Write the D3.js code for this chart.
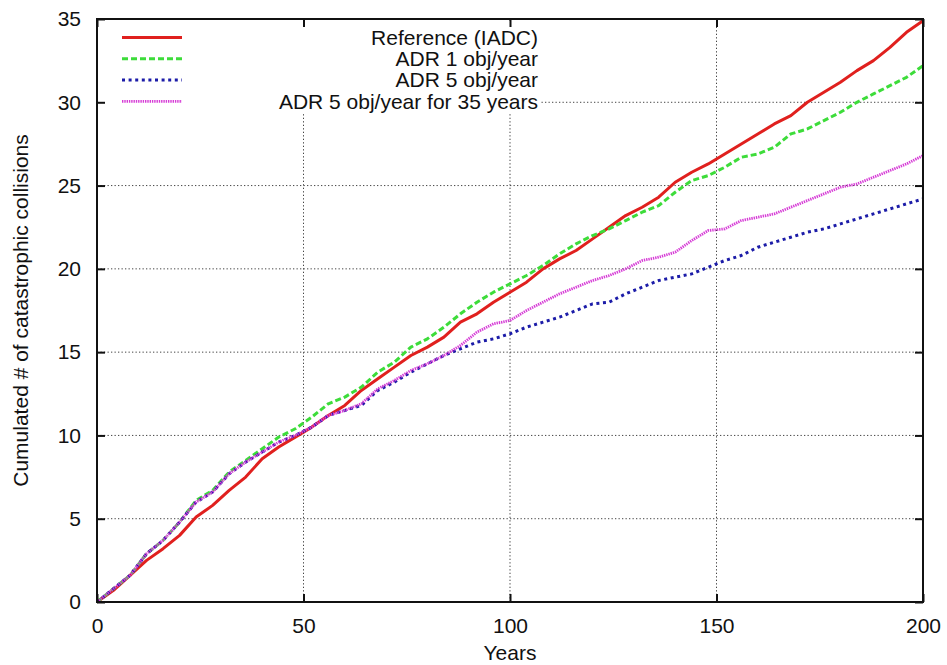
<!DOCTYPE html>
<html>
<head>
<meta charset="utf-8">
<script src="https://cdn.jsdelivr.net/npm/d3@7/dist/d3.min.js"></script>
<style>
  html, body { margin: 0; padding: 0; background: #fff; }
  svg { display: block; }
  text { font-family: "Liberation Sans", Arial, Helvetica, sans-serif; fill: #111; }
</style>
</head>
<body>
<svg id="chart" width="947" height="665"></svg>
<script>
// Simulation years (every 4 years)
const years = d3.range(0, 201, 4);

// Cumulated catastrophic collisions per scenario
const reference = [0, 0.7, 1.6, 2.5, 3.2, 4.0, 5.1, 5.8, 6.7, 7.5, 8.6, 9.3, 9.9, 10.5, 11.2, 11.8, 12.7, 13.4, 14.1, 14.8, 15.3, 15.9, 16.8, 17.3, 18.0, 18.6, 19.2, 20.0, 20.6, 21.1, 21.8, 22.5, 23.2, 23.7, 24.3, 25.2, 25.8, 26.3, 26.9, 27.5, 28.1, 28.7, 29.2, 30.0, 30.6, 31.2, 31.9, 32.5, 33.3, 34.2, 34.9];
const adr1 = [0, 0.8, 1.6, 2.9, 3.7, 4.8, 6.1, 6.7, 7.8, 8.5, 9.2, 9.9, 10.4, 11.1, 11.9, 12.3, 12.9, 13.8, 14.4, 15.3, 15.8, 16.5, 17.3, 18.0, 18.6, 19.1, 19.6, 20.2, 20.9, 21.5, 22.0, 22.4, 22.9, 23.4, 23.8, 24.6, 25.3, 25.6, 26.1, 26.7, 26.9, 27.3, 28.1, 28.4, 28.9, 29.4, 30.0, 30.5, 31.0, 31.5, 32.2];
const adr5 = [0, 0.8, 1.6, 2.9, 3.7, 4.8, 6.0, 6.6, 7.7, 8.4, 9.0, 9.6, 10.0, 10.5, 11.2, 11.5, 11.8, 12.7, 13.2, 13.8, 14.3, 14.8, 15.2, 15.6, 15.8, 16.1, 16.5, 16.8, 17.1, 17.5, 17.9, 18.0, 18.5, 18.9, 19.3, 19.5, 19.7, 20.1, 20.5, 20.8, 21.3, 21.6, 21.9, 22.2, 22.4, 22.7, 23.0, 23.3, 23.6, 23.9, 24.2];
const adr5for35 = [0, 0.8, 1.6, 2.9, 3.7, 4.8, 6.0, 6.6, 7.7, 8.4, 9.0, 9.6, 10.0, 10.5, 11.2, 11.5, 11.9, 12.8, 13.3, 13.9, 14.3, 14.8, 15.4, 16.2, 16.7, 16.9, 17.5, 18.0, 18.5, 18.9, 19.3, 19.6, 20.0, 20.5, 20.7, 21.0, 21.7, 22.3, 22.4, 22.9, 23.1, 23.3, 23.7, 24.1, 24.5, 24.9, 25.1, 25.5, 25.9, 26.3, 26.8];

const seriesNames = ["Reference (IADC)", "ADR 1 obj/year", "ADR 5 obj/year", "ADR 5 obj/year for 35 years"];
const seriesValues = [reference, adr1, adr5, adr5for35];
const seriesColors = ["#e0201e", "#3ddc3a", "#1c1ca8", "#d63cd6"];
const seriesDash = [null, "6,3", "3,3.6", "1.4,0.9"];
const seriesWidth = [3, 3, 3, 2.8];

const xTicks = [0, 50, 100, 150, 200];
const yTicks = [0, 5, 10, 15, 20, 25, 30, 35];

const margin = { left: 97, right: 24, top: 19, bottom: 63 };
const W = 947, H = 665;
const svg = d3.select("#chart");

const x = d3.scaleLinear().domain([0, 200]).range([margin.left, W - margin.right]);
const y = d3.scaleLinear().domain([0, 35]).range([H - margin.bottom, margin.top]);

const x0 = x.range()[0], x1 = x.range()[1];
const y0 = y.range()[0], y1 = y.range()[1];

// Dotted grid
const grid = svg.append("g");
grid.selectAll("line.gy").data(yTicks.filter(d => d > 0 && d < 35)).join("line")
  .attr("x1", x0).attr("x2", x1).attr("y1", d => y(d)).attr("y2", d => y(d));
grid.selectAll("line.gx").data(xTicks.filter(d => d > 0 && d < 200)).join("line")
  .attr("x1", d => x(d)).attr("x2", d => x(d)).attr("y1", y0).attr("y2", y1);
grid.selectAll("line")
  .attr("stroke", "#444").attr("stroke-width", 1).attr("stroke-dasharray", "1.3,2.2");

// Key box (opaque, hides grid beneath)
const key = svg.append("g");
key.append("rect")
  .attr("x", x0 + 2).attr("y", y1 + 2).attr("width", 441).attr("height", 92)
  .attr("fill", "#fff");

// Curves
const line = d3.line().x((d, i) => x(years[i])).y(d => y(d));
svg.append("g").selectAll("path").data(seriesValues).join("path")
  .attr("d", d => line(d))
  .attr("fill", "none")
  .attr("stroke", (d, i) => seriesColors[i])
  .attr("stroke-width", (d, i) => seriesWidth[i])
  .attr("stroke-dasharray", (d, i) => seriesDash[i])
  .attr("stroke-linejoin", "round");

// Key entries
seriesNames.forEach((name, i) => {
  const ky = 37.5 + i * 21.3;
  key.append("text").attr("x", 538).attr("y", ky).attr("dy", "0.35em")
    .attr("text-anchor", "end").style("font-size", "21px").text(name);
  key.append("line").attr("x1", 122).attr("x2", 182).attr("y1", ky).attr("y2", ky)
    .attr("stroke", seriesColors[i]).attr("stroke-width", seriesWidth[i])
    .attr("stroke-dasharray", seriesDash[i]);
});

// Axes with inward ticks, mirrored on top and right
const tickLen = 8;
const axisG = svg.append("g");
axisG.append("g").attr("transform", `translate(0,${y0})`)
  .call(d3.axisBottom(x).tickValues(xTicks).tickSize(-tickLen).tickPadding(16))
  .call(g => g.select(".domain").remove());
axisG.append("g").attr("transform", `translate(0,${y1})`)
  .call(d3.axisTop(x).tickValues(xTicks).tickSize(-tickLen).tickFormat(""))
  .call(g => g.select(".domain").remove());
axisG.append("g").attr("transform", `translate(${x0},0)`)
  .call(d3.axisLeft(y).tickValues(yTicks).tickSize(-tickLen).tickPadding(16))
  .call(g => g.select(".domain").remove());
axisG.append("g").attr("transform", `translate(${x1},0)`)
  .call(d3.axisRight(y).tickValues(yTicks).tickSize(-tickLen).tickFormat(""))
  .call(g => g.select(".domain").remove());
axisG.selectAll(".tick line").attr("stroke", "#111").attr("stroke-width", 2);
axisG.selectAll(".tick text")
  .style("font-family", "'Liberation Sans', Arial, sans-serif")
  .style("font-size", "21px").attr("fill", "#111");

// Border
svg.append("rect")
  .attr("x", x0).attr("y", y1).attr("width", x1 - x0).attr("height", y0 - y1)
  .attr("fill", "none").attr("stroke", "#111").attr("stroke-width", 2);

// Axis titles
svg.append("text").attr("x", (x0 + x1) / 2).attr("y", 660)
  .attr("text-anchor", "middle").style("font-size", "21px").text("Years");
svg.append("text")
  .attr("transform", `translate(28,${(y0 + y1) / 2}) rotate(-90)`)
  .attr("text-anchor", "middle").style("font-size", "21px")
  .text("Cumulated # of catastrophic collisions");
</script>
</body>
</html>
